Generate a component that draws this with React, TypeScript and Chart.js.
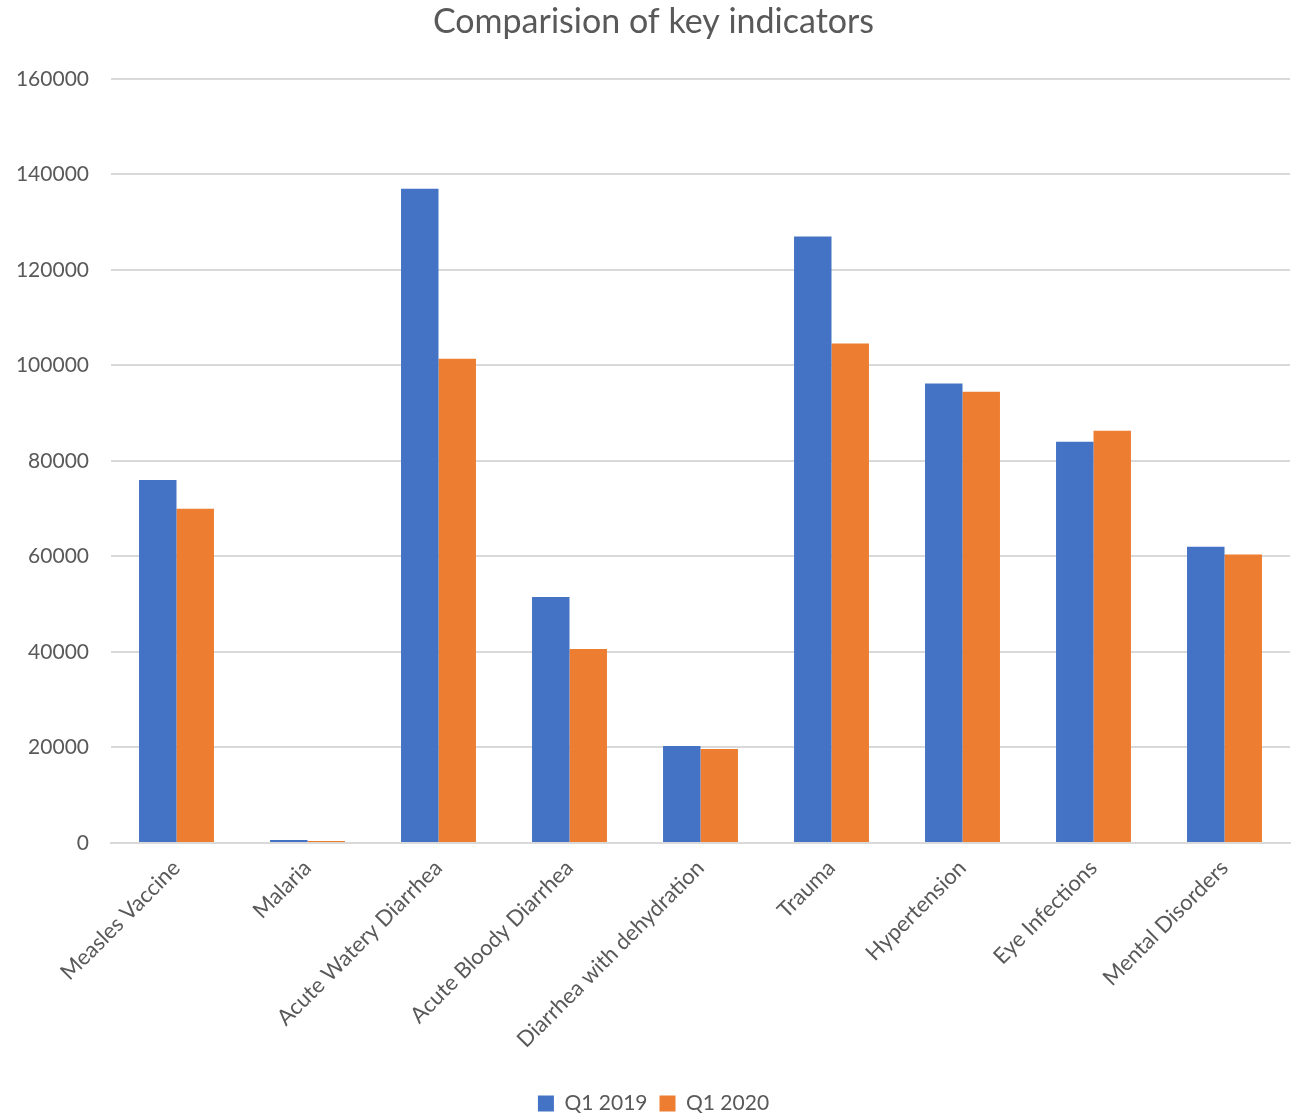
import React, { useEffect, useRef } from "react";
import { Chart, registerables } from "chart.js";

Chart.register(...registerables);

const categories = [
  "Measles Vaccine",
  "Malaria",
  "Acute Watery Diarrhea",
  "Acute Bloody Diarrhea",
  "Diarrhea with dehydration",
  "Trauma",
  "Hypertension",
  "Eye Infections",
  "Mental Disorders",
];
const q12019 = [76000, 650, 137000, 51500, 20300, 127000, 96200, 84000, 62000];
const q12020 = [70000, 400, 101400, 40600, 19700, 104600, 94500, 86300, 60400];
const seriesNames = ["Q1 2019", "Q1 2020"];
const yMin = 0;
const yMax = 160000;
const yStep = 20000;

const FONT = "Lato, 'Open Sans', sans-serif";
const TEXT = "#595959";

export default function App() {
  const ref = useRef<HTMLCanvasElement | null>(null);
  useEffect(() => {
    if (!ref.current) return;
    const chart = new Chart(ref.current, {
      type: "bar",
      data: {
        labels: categories,
        datasets: [
          {
            label: seriesNames[0],
            data: q12019,
            backgroundColor: "#4472C4",
            borderWidth: 0,
            categoryPercentage: 0.572,
            barPercentage: 1,
          },
          {
            label: seriesNames[1],
            data: q12020,
            backgroundColor: "#ED7D31",
            borderWidth: 0,
            categoryPercentage: 0.572,
            barPercentage: 1,
          },
        ],
      },
      options: {
        responsive: false,
        animation: false,
        devicePixelRatio: 1,
        layout: { padding: { left: 17, right: 14, top: 0, bottom: 0 } },
        plugins: {
          title: {
            display: true,
            text: "Comparision of key indicators",
            color: TEXT,
            font: { family: FONT, size: 34, weight: "normal" },
            padding: { top: 2, bottom: 36 },
          },
          legend: {
            position: "bottom",
            labels: {
              color: TEXT,
              font: { family: FONT, size: 21 },
              boxWidth: 16,
              boxHeight: 16,
              padding: 12,
            },
          },
          tooltip: { enabled: false },
        },
        scales: {
          x: {
            grid: { display: false, drawTicks: false },
            border: { display: true, color: "#D9D9D9", width: 2 },
            ticks: {
              color: TEXT,
              font: { family: FONT, size: 22 },
              maxRotation: 45,
              minRotation: 45,
              padding: 12,
              autoSkip: false,
            },
            afterFit: (scale: any) => {
              scale.height = 238;
            },
          },
          y: {
            min: yMin,
            max: yMax,
            grid: { color: "#D9D9D9", lineWidth: 2, drawTicks: false },
            border: { display: false },
            ticks: {
              stepSize: yStep,
              color: TEXT,
              font: { family: FONT, size: 21 },
              padding: 22,
              callback: (v: any) => String(v),
            },
            afterFit: (scale: any) => {
              scale.width = 94;
            },
          },
        },
      },
    });
    return () => chart.destroy();
  }, []);
  return (
    <div style={{ position: "absolute", left: 0, top: 0, width: 1304, height: 1114, overflow: "hidden", background: "#fff" }}>
      <canvas ref={ref} width={1304} height={1124} />
    </div>
  );
}
